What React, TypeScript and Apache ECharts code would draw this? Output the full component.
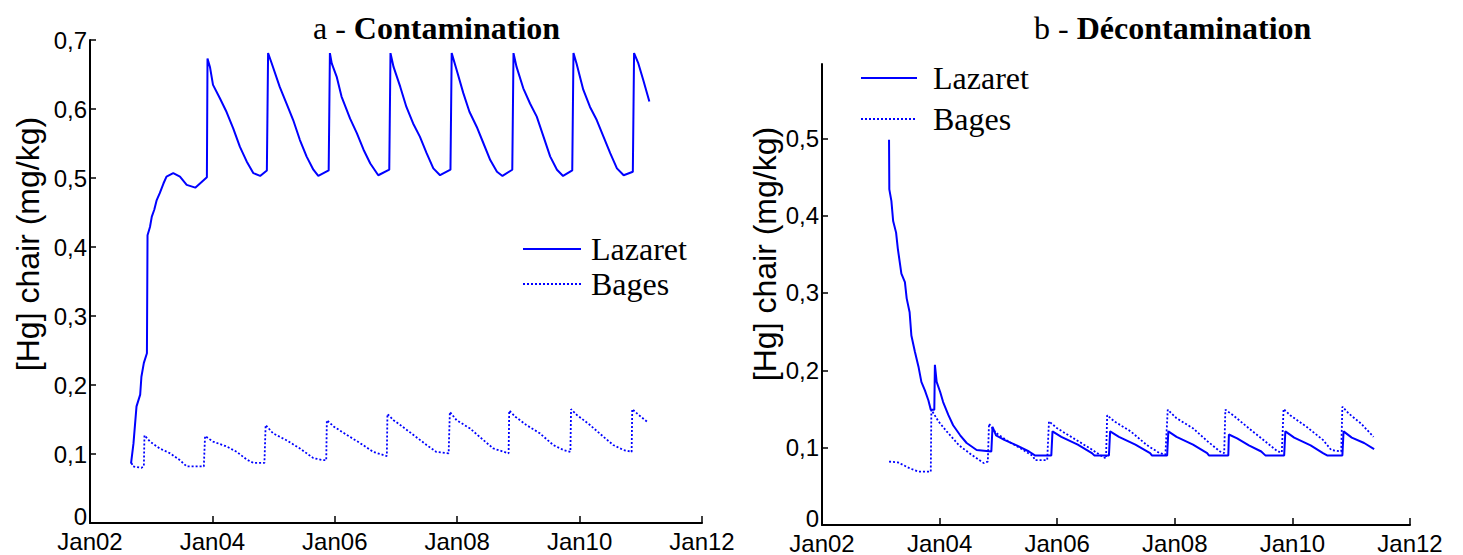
import React, { useEffect, useRef } from "react";
import * as echarts from "echarts";

// x = decimal year, y = [Hg] (mg/kg)
const xTicks = [2002, 2004, 2006, 2008, 2010, 2012];
const leftYTicks = [0, 0.1, 0.2, 0.3, 0.4, 0.5, 0.6, 0.7];
const rightYTicks = [0, 0.1, 0.2, 0.3, 0.4, 0.5];
const legendNames = ["Lazaret", "Bages"];

const contaminationLazaret: [number, number][] = [
  [2002.67, 0.086], [2002.71, 0.115], [2002.76, 0.169], [2002.82, 0.186], [2002.84, 0.212], [2002.88, 0.232],
  [2002.93, 0.246], [2002.94, 0.417], [2002.98, 0.429], [2003.01, 0.444], [2003.05, 0.454], [2003.09, 0.468],
  [2003.14, 0.478], [2003.2, 0.492], [2003.25, 0.502], [2003.36, 0.507], [2003.47, 0.502], [2003.58, 0.49],
  [2003.72, 0.486], [2003.91, 0.501],
  [2003.92, 0.673], [2003.96, 0.661], [2004.01, 0.635], [2004.12, 0.616], [2004.23, 0.596], [2004.34, 0.572],
  [2004.45, 0.545], [2004.56, 0.524], [2004.67, 0.507], [2004.78, 0.503], [2004.89, 0.511],
  [2004.91, 0.681], [2004.97, 0.666], [2005.1, 0.632], [2005.21, 0.608], [2005.32, 0.584], [2005.43, 0.555],
  [2005.54, 0.531], [2005.65, 0.512], [2005.73, 0.503], [2005.9, 0.511],
  [2005.92, 0.681], [2005.95, 0.666], [2006.03, 0.647], [2006.11, 0.618], [2006.25, 0.586], [2006.36, 0.565],
  [2006.47, 0.541], [2006.58, 0.521], [2006.71, 0.504], [2006.89, 0.512],
  [2006.91, 0.681], [2006.96, 0.661], [2007.07, 0.632], [2007.17, 0.603], [2007.28, 0.579], [2007.39, 0.56],
  [2007.5, 0.536], [2007.61, 0.514], [2007.72, 0.504], [2007.89, 0.512],
  [2007.91, 0.681], [2007.99, 0.657], [2008.1, 0.623], [2008.2, 0.596], [2008.32, 0.574], [2008.43, 0.55],
  [2008.54, 0.526], [2008.65, 0.509], [2008.74, 0.503], [2008.9, 0.512],
  [2008.92, 0.681], [2008.97, 0.661], [2009.08, 0.63], [2009.19, 0.608], [2009.3, 0.589], [2009.41, 0.56],
  [2009.52, 0.531], [2009.63, 0.512], [2009.73, 0.503], [2009.88, 0.511],
  [2009.9, 0.681], [2009.95, 0.666], [2010.06, 0.628], [2010.17, 0.603], [2010.28, 0.584], [2010.39, 0.56],
  [2010.5, 0.536], [2010.61, 0.514], [2010.72, 0.504], [2010.87, 0.509],
  [2010.89, 0.681], [2010.96, 0.666], [2011.04, 0.642], [2011.14, 0.611],
];

const contaminationBages: [number, number][] = [
  [2002.68, 0.087], [2002.7, 0.082], [2002.84, 0.08], [2002.88, 0.082],
  [2002.89, 0.127], [2002.98, 0.118], [2003.14, 0.108], [2003.31, 0.101], [2003.47, 0.091], [2003.58, 0.082], [2003.86, 0.082],
  [2003.88, 0.126], [2004.01, 0.118], [2004.23, 0.111], [2004.4, 0.103], [2004.56, 0.092], [2004.67, 0.087], [2004.85, 0.087],
  [2004.87, 0.142], [2004.99, 0.13], [2005.21, 0.12], [2005.43, 0.108], [2005.65, 0.094], [2005.81, 0.091], [2005.86, 0.091],
  [2005.87, 0.149], [2005.98, 0.14], [2006.19, 0.128], [2006.41, 0.116], [2006.63, 0.103], [2006.85, 0.097],
  [2006.86, 0.158], [2006.96, 0.149], [2007.07, 0.142], [2007.28, 0.128], [2007.5, 0.113], [2007.66, 0.103], [2007.86, 0.101],
  [2007.88, 0.161], [2007.99, 0.149], [2008.21, 0.137], [2008.43, 0.12], [2008.59, 0.108], [2008.84, 0.101],
  [2008.85, 0.163], [2008.95, 0.154], [2009.13, 0.142], [2009.35, 0.13], [2009.57, 0.113], [2009.73, 0.106], [2009.85, 0.103],
  [2009.86, 0.165], [2009.95, 0.157], [2010.17, 0.142], [2010.39, 0.125], [2010.55, 0.113], [2010.71, 0.106], [2010.85, 0.103],
  [2010.86, 0.165], [2010.96, 0.157], [2011.1, 0.147],
];

const decontaminationLazaret: [number, number][] = [
  [2003.14, 0.498], [2003.145, 0.434], [2003.18, 0.419], [2003.21, 0.393], [2003.26, 0.378], [2003.29, 0.357],
  [2003.35, 0.325], [2003.41, 0.314], [2003.44, 0.293], [2003.49, 0.275], [2003.52, 0.245], [2003.58, 0.224],
  [2003.64, 0.205], [2003.69, 0.185], [2003.75, 0.174], [2003.81, 0.161], [2003.85, 0.149], [2003.91, 0.149],
  [2003.92, 0.207], [2003.95, 0.185], [2004.01, 0.172], [2004.06, 0.159], [2004.15, 0.142], [2004.23, 0.129],
  [2004.35, 0.116], [2004.46, 0.106], [2004.63, 0.097], [2004.88, 0.095],
  [2004.9, 0.127], [2004.96, 0.116], [2005.1, 0.11], [2005.31, 0.103], [2005.52, 0.095], [2005.62, 0.09], [2005.9, 0.09],
  [2005.92, 0.121], [2006.07, 0.114], [2006.35, 0.104], [2006.59, 0.093], [2006.63, 0.09], [2006.88, 0.09],
  [2006.9, 0.121], [2007.05, 0.114], [2007.33, 0.104], [2007.58, 0.093], [2007.61, 0.09], [2007.87, 0.09],
  [2007.89, 0.121], [2008.03, 0.114], [2008.31, 0.104], [2008.55, 0.093], [2008.58, 0.09], [2008.91, 0.09],
  [2008.92, 0.117], [2009.06, 0.112], [2009.26, 0.103], [2009.47, 0.095], [2009.54, 0.09], [2009.86, 0.09],
  [2009.88, 0.121], [2010.03, 0.113], [2010.31, 0.103], [2010.52, 0.093], [2010.59, 0.09], [2010.85, 0.09],
  [2010.87, 0.121], [2011.01, 0.113], [2011.22, 0.106], [2011.39, 0.098],
];

const decontaminationBages: [number, number][] = [
  [2003.14, 0.082], [2003.29, 0.081], [2003.5, 0.073], [2003.64, 0.069], [2003.85, 0.069],
  [2003.86, 0.149], [2003.98, 0.134], [2004.12, 0.121], [2004.33, 0.103], [2004.54, 0.091], [2004.75, 0.08], [2004.82, 0.082],
  [2004.84, 0.131], [2004.96, 0.119], [2005.17, 0.108], [2005.38, 0.099], [2005.59, 0.089], [2005.62, 0.084], [2005.83, 0.084],
  [2005.86, 0.134], [2006.0, 0.125], [2006.28, 0.112], [2006.56, 0.099], [2006.76, 0.089], [2006.83, 0.086],
  [2006.85, 0.142], [2006.97, 0.134], [2007.25, 0.121], [2007.53, 0.103], [2007.74, 0.093], [2007.84, 0.091],
  [2007.88, 0.149], [2008.03, 0.138], [2008.31, 0.125], [2008.56, 0.108], [2008.77, 0.095], [2008.84, 0.093],
  [2008.86, 0.149], [2008.99, 0.142], [2009.26, 0.125], [2009.54, 0.108], [2009.75, 0.095], [2009.82, 0.094],
  [2009.85, 0.15], [2009.96, 0.142], [2010.24, 0.127], [2010.52, 0.11], [2010.66, 0.097], [2010.83, 0.095],
  [2010.85, 0.153], [2010.96, 0.144], [2011.17, 0.131], [2011.38, 0.114],
];

const SANS = "'Liberation Sans', Arial, sans-serif";
const SERIF = "'Liberation Serif', 'Times New Roman', serif";
const BLUE = "#0000ff";

const fmtX = (v: number) => "Jan" + String(Math.round(v) % 100).padStart(2, "0");
const fmtY = (v: number) => {
  if (Math.abs(v * 10 - Math.round(v * 10)) > 1e-6) return "";
  if (v === 0) return "{z|0}";
  return v.toFixed(1).replace(".", ",");
};

function xAxisFor(gridIndex: number) {
  return {
    type: "value" as const,
    gridIndex,
    min: xTicks[0],
    max: xTicks[xTicks.length - 1],
    interval: 2,
    axisLine: { show: true, onZero: false, lineStyle: { color: "#000", width: 2 } },
    axisTick: { show: true, inside: true, length: 7, lineStyle: { color: "#000", width: 1.5 } },
    splitLine: { show: false },
    axisLabel: { formatter: fmtX, fontFamily: SANS, fontSize: 24, color: "#000", margin: 6 },
  };
}

function yAxisFor(gridIndex: number, max: number, ticks: number[]) {
  return {
    type: "value" as const,
    gridIndex,
    min: 0,
    max,
    interval: 0.1,
    axisLine: { show: true, onZero: false, lineStyle: { color: "#000", width: 2 } },
    axisTick: { show: true, inside: true, length: 6, customValues: ticks, lineStyle: { color: "#000", width: 1.5 } },
    splitLine: { show: false },
    axisLabel: {
      customValues: ticks,
      formatter: fmtY,
      fontFamily: SANS,
      fontSize: 24,
      color: "#000",
      margin: 3,
      rich: { z: { fontFamily: SANS, fontSize: 24, color: "#000", padding: [0, 0, 14, 0] } },
    },
  };
}

function lineSeries(name: string, data: [number, number][], idx: number, dotted: boolean) {
  return {
    type: "line" as const,
    name,
    xAxisIndex: idx,
    yAxisIndex: idx,
    data,
    symbol: "none",
    showSymbol: false,
    lineStyle: dotted ? { color: BLUE, width: 1.8, type: [2, 2] } : { color: BLUE, width: 2 },
    itemStyle: { color: BLUE },
    z: dotted ? 2 : 3,
  };
}

const titleRich = {
  n: { fontFamily: SERIF, fontSize: 32, fontWeight: "normal", color: "#000" },
  b: { fontFamily: SERIF, fontSize: 32, fontWeight: "bold", color: "#000" },
};

export default function App() {
  const ref = useRef<HTMLDivElement>(null);
  useEffect(() => {
    if (!ref.current) return;
    const chart = echarts.init(ref.current, undefined, { renderer: "svg" });
    chart.setOption({
      animation: false,
      backgroundColor: "#fff",
      title: [
        {
          text: "{n|a - }{b|Contamination}",
          left: 313,
          top: 12,
          padding: 0,
          textStyle: { fontWeight: "normal", rich: titleRich },
        },
        {
          text: "{n|b - }{b|Décontamination}",
          left: 1034,
          top: 12,
          padding: 0,
          textStyle: { fontWeight: "normal", rich: titleRich },
        },
      ],
      legend: [
        {
          data: legendNames,
          orient: "vertical",
          left: 522,
          top: 233,
          padding: 0,
          itemWidth: 58,
          itemHeight: 14,
          itemGap: 3,
          selectedMode: false,
          itemStyle: { opacity: 0 },
          textStyle: { fontFamily: SERIF, fontSize: 32, color: "#000", padding: [0, 0, 0, 5] },
        },
        {
          data: legendNames,
          orient: "vertical",
          left: 860,
          top: 62,
          padding: 0,
          itemWidth: 56,
          itemHeight: 14,
          itemGap: 9,
          selectedMode: false,
          itemStyle: { opacity: 0 },
          textStyle: { fontFamily: SERIF, fontSize: 32, color: "#000", padding: [0, 0, 0, 11] },
        },
      ],
      grid: [
        { left: 90, top: 40, width: 612, height: 483 },
        { left: 822, top: 64, width: 588, height: 463 },
      ],
      xAxis: [xAxisFor(0), xAxisFor(1)],
      yAxis: [yAxisFor(0, 0.7, leftYTicks), yAxisFor(1, 0.596, rightYTicks)],
      graphic: [
        {
          type: "text",
          x: 28,
          y: 244,
          rotation: Math.PI / 2,
          style: {
            text: "[Hg] chair (mg/kg)",
            font: `32px ${SANS}`,
            fill: "#000",
            textAlign: "center",
            textVerticalAlign: "middle",
          },
        },
        {
          type: "text",
          x: 765,
          y: 254,
          rotation: Math.PI / 2,
          style: {
            text: "[Hg] chair (mg/kg)",
            font: `32px ${SANS}`,
            fill: "#000",
            textAlign: "center",
            textVerticalAlign: "middle",
          },
        },
      ],
      series: [
        lineSeries("Lazaret", contaminationLazaret, 0, false),
        lineSeries("Bages", contaminationBages, 0, true),
        lineSeries("Lazaret", decontaminationLazaret, 1, false),
        lineSeries("Bages", decontaminationBages, 1, true),
      ],
    });
    return () => chart.dispose();
  }, []);
  return (
    <div
      ref={ref}
      style={{ position: "fixed", left: 0, top: 0, width: 1463, height: 555, background: "#fff" }}
    />
  );
}
